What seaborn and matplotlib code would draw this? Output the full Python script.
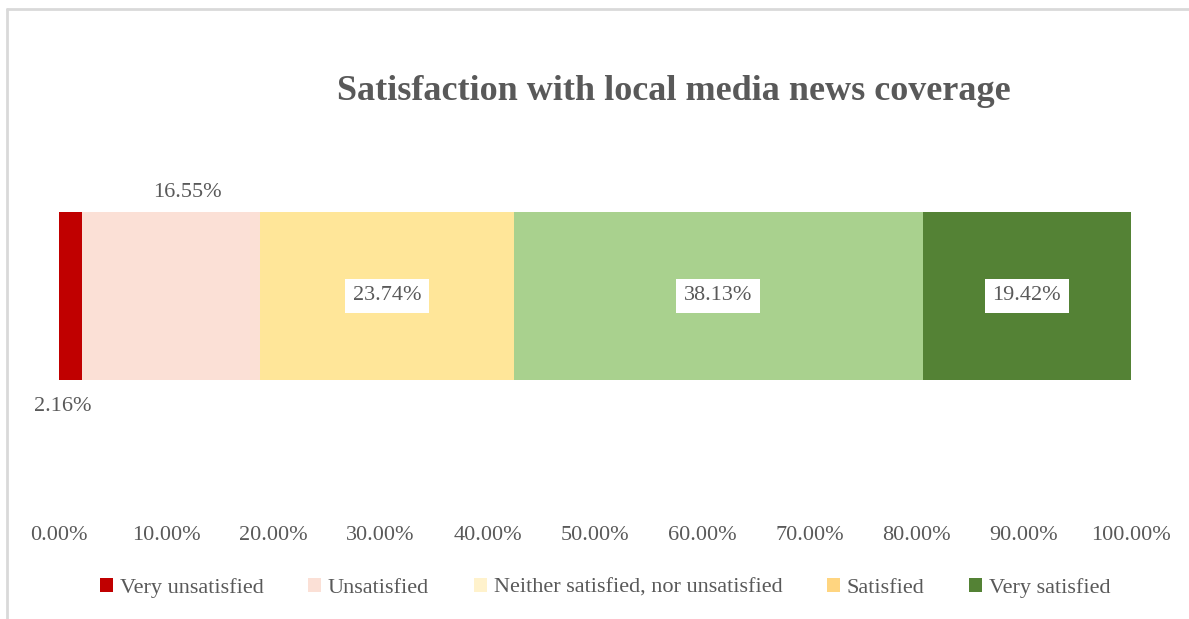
import matplotlib
matplotlib.use("Agg")
import matplotlib.pyplot as plt
import seaborn as sns
import pandas as pd
from matplotlib.patches import Patch
from matplotlib.lines import Line2D

categories = ["Very unsatisfied", "Unsatisfied", "Neither satisfied, nor unsatisfied",
              "Satisfied", "Very satisfied"]
values = [2.16, 16.55, 23.74, 38.13, 19.42]
bar_colors = ["#C00000", "#FBE0D6", "#FFE699", "#A9D18E", "#548235"]
legend_colors = ["#C00000", "#FBE0D6", "#FFF2CC", "#FFD580", "#548235"]
tick_values = [0, 10, 20, 30, 40, 50, 60, 70, 80, 90, 100]
tick_labels = [f"{t:.2f}%" for t in tick_values]
title = "Satisfaction with local media news coverage"

sns.set_theme(style="white")
plt.rcParams["font.family"] = ["Liberation Serif", "DejaVu Serif"]
TXT = "#595959"

df = pd.DataFrame({"category": categories, "value": values})
df["left"] = df["value"].cumsum() - df["value"]

W, H = 1189, 619
fig = plt.figure(figsize=(W / 100, H / 100), dpi=100)
ax = fig.add_axes([59 / W, 1 - 515 / H, 1072 / W, 365 / H])

for i, row in df.iterrows():
    sns.barplot(x=[row["value"]], y=[0], left=row["left"], orient="h",
                color=bar_colors[i], width=1.0, ax=ax, native_scale=True,
                saturation=1, linewidth=0)

ax.set_xlim(0, 100)
ax.set_ylim(-1.304, 0.869)
ax.set_xticks(tick_values)
ax.set_xticklabels(tick_labels, fontsize=16, color=TXT)
ax.tick_params(axis="x", length=0, pad=8)
ax.set_yticks([])
ax.set_xlabel("")
ax.set_ylabel("")
for s in ax.spines.values():
    s.set_visible(False)
ax.grid(False)

# data labels
for i, row in df.iterrows():
    cx = row["left"] + row["value"] / 2
    lab = f"{row['value']:.2f}%"
    if i == 0:
        ax.text(cx - 0.7, -0.5 - 0.1, lab, ha="center", va="top", fontsize=16, color=TXT)
    elif i == 1:
        ax.text(cx + 1.5, 0.5 + 0.06, lab, ha="center", va="bottom", fontsize=16, color=TXT)
    else:
        ax.text(cx, 0, lab, ha="center", va="center", fontsize=16, color=TXT,
                bbox=dict(boxstyle="square,pad=0.35", fc="white", ec="none"))

fig.text(674 / W, 1 - 92 / H, title, ha="center", va="center", fontsize=26,
         fontweight="bold", color=TXT)

handles = [Patch(facecolor=c, edgecolor="none", label=l) for c, l in zip(legend_colors, categories)]
leg = fig.legend(handles=handles, loc="center", bbox_to_anchor=(605 / W, 1 - 588 / H),
                 ncol=5, frameon=False, fontsize=16, handlelength=0.6, handleheight=0.6,
                 handletextpad=0.3, columnspacing=2.0)
for t in leg.get_texts():
    t.set_color(TXT)

# chart border (top and left visible)
fig.add_artist(Line2D([7 / W, 7 / W], [0, 1 - 9 / H], transform=fig.transFigure,
                      color="#D9D9D9", linewidth=2))
fig.add_artist(Line2D([7 / W, 1], [1 - 9 / H, 1 - 9 / H], transform=fig.transFigure,
                      color="#D9D9D9", linewidth=2))

fig.savefig("out.png", dpi=100)
